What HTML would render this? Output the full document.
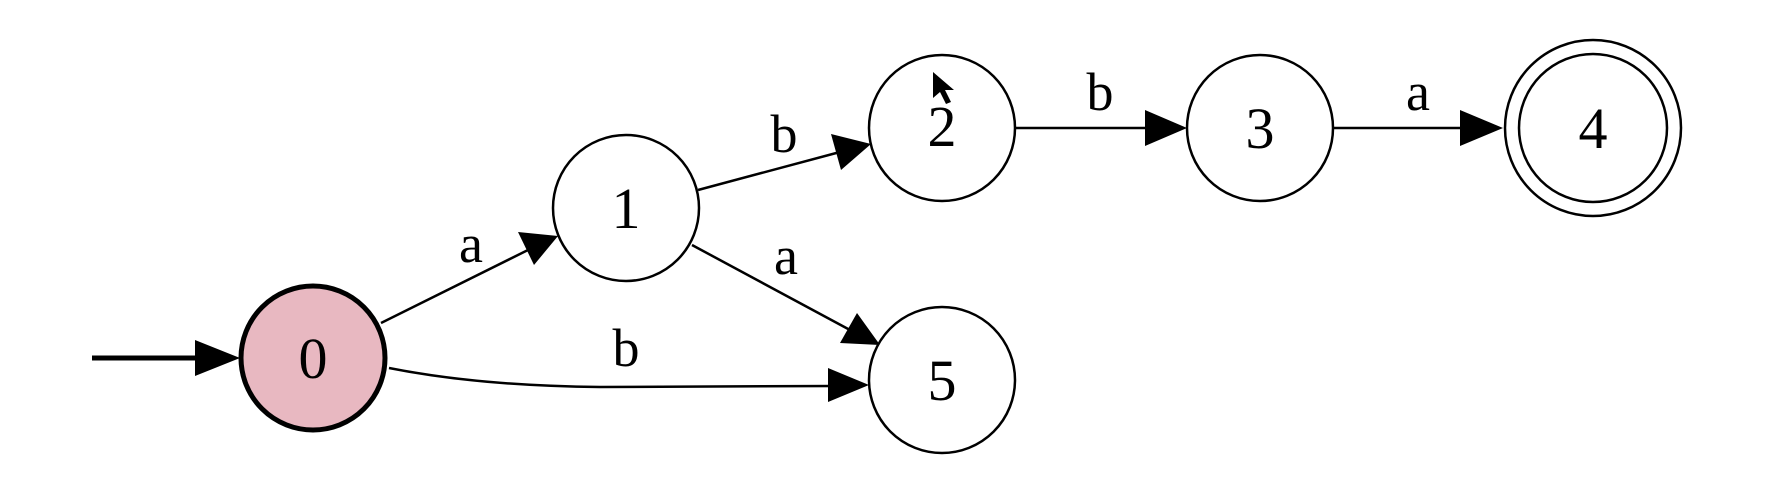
<!DOCTYPE html>
<html><head><meta charset="utf-8"><style>html,body{margin:0;padding:0;background:#fff}svg{display:block}</style></head>
<body>
<svg width="1782" height="500" viewBox="0 0 1782 500" xmlns="http://www.w3.org/2000/svg" font-family="Liberation Serif, serif">
<g stroke="#000" fill="none" stroke-width="2.5">
<line x1="92" y1="358" x2="200" y2="358" stroke-width="5"/>
<polygon points="195,340 240,358 195,376" fill="#000" stroke="none"/>
<line x1="381" y1="323" x2="528" y2="250"/>
<polygon points="518,232 558,236 534,265" fill="#000" stroke="none"/>
<line x1="698" y1="190" x2="840" y2="152"/>
<polygon points="831,134 871,144 841,170" fill="#000" stroke="none"/>
<line x1="692" y1="245" x2="850" y2="330"/>
<polygon points="857,313 880,345 840,343" fill="#000" stroke="none"/>
<path d="M389,368 Q480,386 600,387 L835,386"/>
<polygon points="828,368 869,385 828,402" fill="#000" stroke="none"/>
<line x1="1016" y1="128" x2="1150" y2="128"/>
<polygon points="1145,110 1187,128 1145,146" fill="#000" stroke="none"/>
<line x1="1333" y1="128" x2="1465" y2="128"/>
<polygon points="1460,110 1503,128 1460,146" fill="#000" stroke="none"/>
</g>
<g stroke="#000" stroke-width="2.5" fill="#fff">
<circle cx="313" cy="358" r="72" fill="#e8b8c1" stroke-width="5"/>
<circle cx="626" cy="208" r="73"/>
<circle cx="942" cy="128" r="73"/>
<circle cx="1260" cy="128" r="73"/>
<circle cx="1593" cy="128" r="88"/>
<circle cx="1593" cy="128" r="74"/>
<circle cx="942" cy="380" r="73"/>
</g>
<g font-size="58" text-anchor="middle" fill="#000">
<text x="313" y="378">0</text>
<text x="626" y="228">1</text>
<text x="942" y="146">2</text>
<text x="1260" y="148">3</text>
<text x="1593" y="148">4</text>
<text x="942" y="400">5</text>
</g>
<g font-size="54" text-anchor="middle" fill="#000">
<text x="471" y="262">a</text>
<text x="784" y="152">b</text>
<text x="786" y="274">a</text>
<text x="626" y="366">b</text>
<text x="1100" y="110">b</text>
<text x="1418" y="110">a</text>
</g>
<path d="M933,72 L933,98 L940,92 L946,104 L951,102 L945,90 L954,90 z" fill="#000"/>
</svg>
</body></html>
